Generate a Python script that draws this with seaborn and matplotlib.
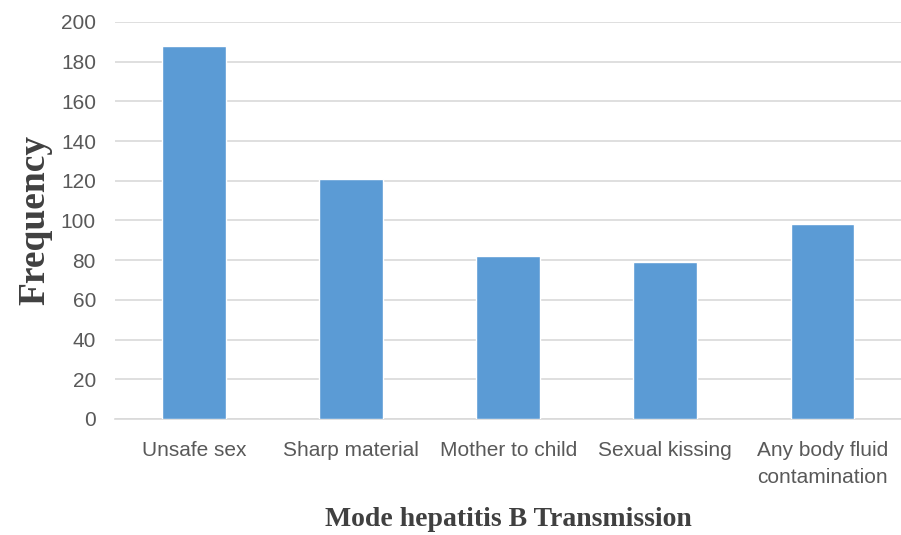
import matplotlib
matplotlib.use("Agg")
import matplotlib.pyplot as plt
import seaborn as sns
import pandas as pd

modes = ["Unsafe sex", "Sharp material", "Mother to child", "Sexual kissing",
         "Any body fluid\ncontamination"]
frequency = [188, 121, 82, 79, 98]

df = pd.DataFrame({"mode": modes, "frequency": frequency})

sns.set_style("white")
plt.rcParams["font.family"] = ["Liberation Sans", "DejaVu Sans"]

fig = plt.figure(figsize=(9.01, 5.35), dpi=100)
ax = fig.add_axes([0.128, 0.217, 0.872, 0.742])

sns.barplot(data=df, x="mode", y="frequency", color="#5b9bd5", width=0.405,
            saturation=1, ax=ax, zorder=3)

ax.set_ylim(0, 200)
ax.set_yticks(range(0, 201, 20))
ax.yaxis.grid(True, color="#d9d9d9", linewidth=1.2, zorder=0)
for s in ["top", "right", "left"]:
    ax.spines[s].set_visible(False)
ax.spines["bottom"].set_color("#d9d9d9")
ax.spines["bottom"].set_linewidth(1.2)
ax.tick_params(axis="both", length=0, labelsize=15, colors="#595959")
ax.tick_params(axis="y", pad=14)
ax.tick_params(axis="x", pad=16)
for lbl in ax.get_xticklabels():
    lbl.set_linespacing(1.55)

ax.set_ylabel("Frequency", family="Liberation Serif", fontweight="bold",
              fontsize=27, color="#404040", labelpad=6)
ax.set_xlabel("Mode hepatitis B Transmission", family="Liberation Serif",
              fontweight="bold", fontsize=20, color="#404040", labelpad=14)

fig.savefig("out.png", dpi=100)
